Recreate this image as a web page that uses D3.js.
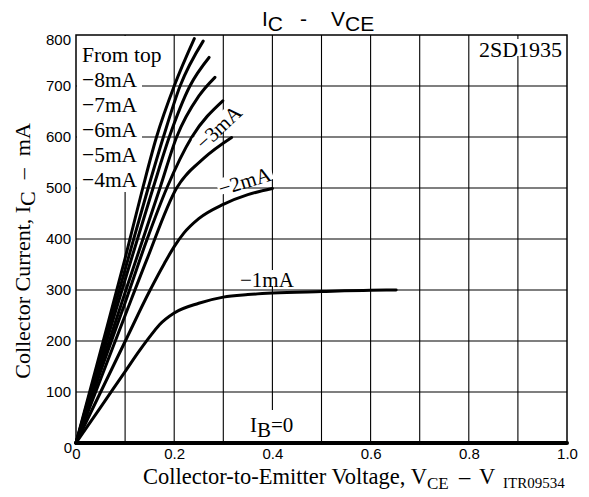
<!DOCTYPE html>
<html>
<head>
<meta charset="utf-8">
<script src="https://cdn.jsdelivr.net/npm/d3@7"></script>
<style>
body { margin: 0; background: #fff; }
.serif { font-family: "Liberation Serif", "Times New Roman", serif; }
.sans { font-family: "Liberation Sans", Arial, sans-serif; }
</style>
</head>
<body>
<svg width="589" height="497"></svg>
<script>
// tick labels
const xTicks = [0, 0.2, 0.4, 0.6, 0.8, 1.0];
const yTicks = [0, 100, 200, 300, 400, 500, 600, 700, 800];

// I_C - V_CE curves, [V_CE (V), I_C (mA)]
const ib8 = [[0,0],[0.05,180],[0.1,362],[0.136,500],[0.164,600],[0.2,700],[0.241,793]];
const ib7 = [[0,0],[0.05,170],[0.1,340],[0.147,500],[0.178,600],[0.212,700],[0.259,788]];
const ib6 = [[0,0],[0.05,160],[0.1,320],[0.157,500],[0.19,600],[0.232,700],[0.271,756]];
const ib5 = [[0,0],[0.05,148],[0.1,295],[0.171,500],[0.205,600],[0.25,680],[0.283,717]];
const ib4 = [[0,0],[0.05,140],[0.1,275],[0.145,400],[0.185,500],[0.236,600],[0.299,671]];
const ib3 = [[0,0],[0.05,125],[0.1,250],[0.144,359],[0.205,500],[0.26,558],[0.317,599]];
const ib2 = [[0,0],[0.1,199],[0.15,298],[0.18,352],[0.2,385],[0.22,412],[0.25,440],[0.3,468],[0.35,487],[0.4,499]];
const ib1 = [[0,0],[0.05,70],[0.1,140],[0.13,182],[0.15,208],[0.17,232],[0.2,255],[0.25,274],[0.3,286],[0.35,291],[0.4,294],[0.5,297],[0.6,299.5],[0.652,300]];
const ib0 = [[0,0],[1.0,0]];
const curves = [ib8, ib7, ib6, ib5, ib4, ib3, ib2, ib1, ib0];

const legendLabels = ["From top", "\u22128mA", "\u22127mA", "\u22126mA", "\u22125mA", "\u22124mA"];

let svg = d3.select("svg");
let mLeft = 76, mRight = 567, mTop = 35, mBottom = 443;

let x = d3.scaleLinear().domain([0, 1]).range([mLeft, mRight]);
let y = d3.scaleLinear().domain([0, 800]).range([mBottom, mTop]);

// grid
let grid = svg.append("g").attr("stroke", "#000").attr("stroke-width", 1.1);
grid.selectAll(".vg").data(d3.range(1, 10).map(d => d / 10)).enter()
    .append("line")
    .attr("x1", d => x(d)).attr("x2", d => x(d))
    .attr("y1", mTop).attr("y2", mBottom);
grid.selectAll(".hg").data(yTicks.slice(1, -1)).enter()
    .append("line")
    .attr("x1", mLeft).attr("x2", mRight)
    .attr("y1", d => y(d)).attr("y2", d => y(d));

// white block behind the legend (it cuts the grid)
svg.append("rect").attr("fill", "#fff")
    .attr("x", mLeft + 1).attr("y", mTop + 1).attr("width", 65).attr("height", 156);

svg.append("rect")
    .attr("x", mLeft).attr("y", mTop)
    .attr("width", mRight - mLeft).attr("height", mBottom - mTop)
    .attr("fill", "none").attr("stroke", "#000").attr("stroke-width", 1.5);

// labels with white backing, from cap height down to the baseline
function label(txt, px, py, rot, size, pad) {
    let g = svg.append("g").attr("transform", "translate(" + px + "," + py + ") rotate(" + rot + ")");
    let r = g.append("rect").attr("fill", "#fff");
    let t = g.append("text").attr("class", "serif").attr("font-size", size).text(txt);
    let b = t.node().getBBox();
    r.attr("x", b.x - pad).attr("y", b.y + 2).attr("width", b.width + 2 * pad).attr("height", -b.y - 3);
    return g;
}

let line = d3.line().x(d => x(d[0])).y(d => y(d[1])).curve(d3.curveMonotoneX);

let labelsG = [];
labelsG.push(label("2SD1935", 479, 57, 0, 22, 1));
labelsG.push(label("\u22121mA", 240, 287, 0, 21, 1));
labelsG.push(label("\u22122mA", 221, 196, -17, 21, 1));
labelsG.push(label("\u22123mA", 204, 151, -43, 21, 1));

// I_B=0 label
let ibg = svg.append("g");
ibg.append("rect").attr("x", 248).attr("y", 410).attr("width", 49).attr("height", 31).attr("fill", "#fff");
let ibt = ibg.append("text").attr("class", "serif").attr("font-size", 21).attr("x", 250).attr("y", 432);
ibt.append("tspan").text("I");
ibt.append("tspan").attr("dy", 5).text("B");
ibt.append("tspan").attr("dy", -5).text("=0");

// curves
svg.append("g").selectAll("path").data(curves).enter()
    .append("path")
    .attr("d", line)
    .attr("fill", "none")
    .attr("stroke", "#000")
    .attr("stroke-width", (d, i) => i === 8 ? 4 : 3)
    .attr("stroke-linecap", "round");

labelsG.forEach(g => g.raise());

// legend text
svg.append("g").selectAll("text").data(legendLabels).enter()
    .append("text")
    .attr("class", "serif")
    .attr("font-size", 21.5)
    .attr("x", 82)
    .attr("y", (d, i) => 61.5 + i * 25)
    .text(d => d);

// axes
let yAxis = svg.append("g").attr("transform", "translate(" + mLeft + ",0)")
    .call(d3.axisLeft(y).tickValues(yTicks).tickSize(0).tickPadding(5));
let xAxis = svg.append("g").attr("transform", "translate(0," + mBottom + ")")
    .call(d3.axisBottom(x).tickValues(xTicks).tickSize(0).tickPadding(5)
        .tickFormat(d => d === 0 ? "0" : d3.format(".1f")(d)));
[yAxis, xAxis].forEach(a => {
    a.select(".domain").remove();
    a.selectAll("text").attr("font-family", "Liberation Sans, Arial, sans-serif")
        .attr("font-size", 15).attr("fill", "#000");
});
yAxis.selectAll("text").filter(d => d === 0 || d === 800).attr("dy", "0.6em");
yAxis.selectAll("text").filter(d => d === 0).attr("x", -4);

// title
let title = svg.append("text").attr("class", "sans").attr("font-size", 21).attr("y", 26);
title.append("tspan").attr("x", 262).text("I");
title.append("tspan").attr("dy", 5).text("C");
title.append("tspan").attr("x", 300).attr("dy", -5).text("-");
title.append("tspan").attr("x", 331).text("V");
title.append("tspan").attr("dy", 5).text("CE");

// x axis title
let xt = svg.append("text").attr("class", "serif").attr("font-size", 22.5).attr("y", 484);
xt.append("tspan").attr("x", 143).text("Collector-to-Emitter Voltage, V");
xt.append("tspan").attr("dy", 5).attr("font-size", 17).text("CE");
xt.append("tspan").attr("x", 459).attr("dy", -5).text("\u2013");
xt.append("tspan").attr("x", 479).text("V");
svg.append("text").attr("class", "serif").attr("font-size", 15).attr("x", 503).attr("y", 488).text("ITR09534");

// y axis title
let yt = svg.append("text").attr("class", "serif").attr("font-size", 22)
    .attr("transform", "rotate(-90)")
    .attr("x", -251).attr("y", 30)
    .attr("text-anchor", "middle");
yt.append("tspan").text("Collector Current, I");
yt.append("tspan").attr("dy", 5).text("C");
yt.append("tspan").attr("dy", -5).attr("dx", 12).text("\u2013");
yt.append("tspan").attr("dx", 12).text("mA");
</script>
</body>
</html>
